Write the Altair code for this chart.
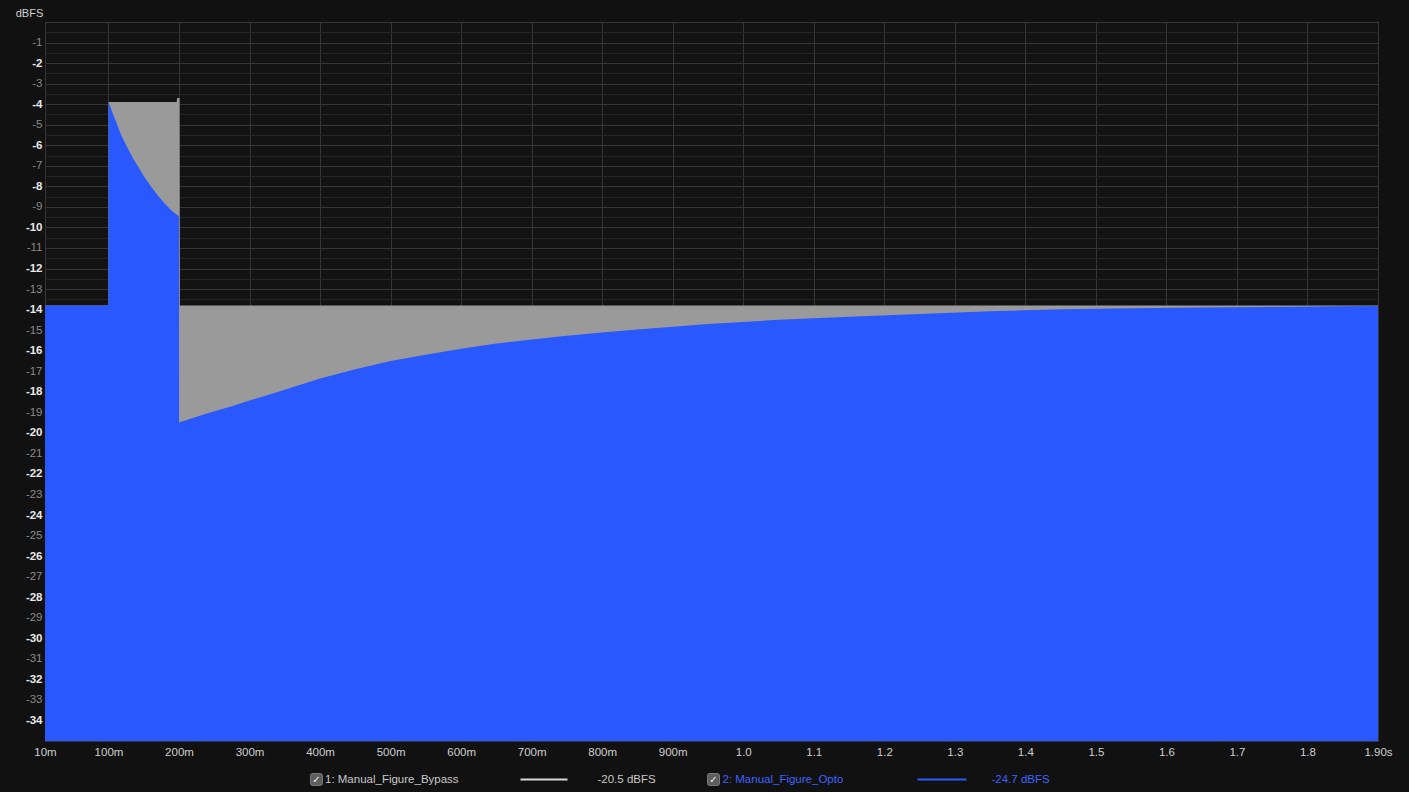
import altair as alt
import pandas as pd

# ---- data ----
bypass_t = [0.01, 0.0999, 0.1001, 0.1968, 0.1972, 0.2008, 0.2012, 1.9]
bypass_db = [-13.8, -13.8, -3.9, -3.9, -3.7, -3.7, -13.8, -13.8]

opto_t = [0.01, 0.0999, 0.1001, 0.103, 0.106, 0.110, 0.114, 0.118, 0.123, 0.129,
          0.136, 0.143, 0.150, 0.160, 0.170, 0.180, 0.190, 0.1999,
          0.2001, 0.225, 0.25, 0.275, 0.30, 0.35, 0.40, 0.45, 0.50, 0.55, 0.60,
          0.65, 0.70, 0.75, 0.80, 0.85, 0.95, 1.05, 1.15, 1.25, 1.35, 1.45, 1.55,
          1.65, 1.75, 1.85, 1.9]
opto_db = [-13.8, -13.8, -3.9, -4.15, -4.45, -4.8, -5.15, -5.5, -5.85, -6.25,
           -6.7, -7.1, -7.5, -8.0, -8.45, -8.85, -9.2, -9.45,
           -19.5, -19.22, -18.95, -18.7, -18.43, -17.9, -17.35, -16.9, -16.5,
           -16.2, -15.9, -15.65, -15.45, -15.27, -15.12, -14.97, -14.7, -14.5, -14.35,
           -14.22, -14.08, -13.98, -13.93, -13.9, -13.87, -13.84, -13.82]

series_names = ["1: Manual_Figure_Bypass", "2: Manual_Figure_Opto"]
rms_labels = ["-20.5 dBFS", "-24.7 dBFS"]

x_tick_values = [0.01, 0.1, 0.2, 0.3, 0.4, 0.5, 0.6, 0.7, 0.8, 0.9, 1.0,
                 1.1, 1.2, 1.3, 1.4, 1.5, 1.6, 1.7, 1.8, 1.9]
x_tick_labels = ["10m", "100m", "200m", "300m", "400m", "500m", "600m", "700m",
                 "800m", "900m", "1.0", "1.1", "1.2", "1.3", "1.4", "1.5", "1.6",
                 "1.7", "1.8", "1.90s"]
y_grid_values = [v / 2 for v in range(-70, 1)]
FLOOR = -35.0

BLUE = "#2a58ff"
GRAY = "#9a9a9a"
FONT = "Liberation Sans"

bypass = pd.DataFrame({"t": bypass_t, "db": bypass_db})
bypass["base"] = FLOOR
opto = pd.DataFrame({"t": opto_t, "db": opto_db})
opto["base"] = FLOOR

ints = [round(v * 100) for v in x_tick_values]
x_label_expr = "[" + ",".join("'%s'" % s for s in x_tick_labels) + "][indexof([" + \
    ",".join(str(v) for v in ints) + "], round(datum.value*100))]"

x_enc = alt.X("t:Q", scale=alt.Scale(domain=[0.01, 1.9], nice=False, zero=False),
              axis=alt.Axis(values=x_tick_values, labelExpr=x_label_expr, title=None,
                            grid=True, gridColor="#353535", domain=False, ticks=False,
                            labelColor="#cfcfcf", labelFont=FONT, labelFontSize=11.5,
                            labelPadding=5, labelFlush=False))
y_enc = alt.Y("db:Q", scale=alt.Scale(domain=[-35, 0], nice=False, zero=False),
              axis=alt.Axis(values=y_grid_values,
                            labelExpr="(datum.value % 1 == 0 && datum.value < 0 && datum.value > -35) ? ('' + datum.value) : ''",
                            title="dBFS", titleAngle=0, titleX=-16, titleY=-9,
                            titleAlign="center", titleBaseline="middle",
                            titleColor="#d0d0d0", titleFont=FONT, titleFontSize=11,
                            titleFontWeight="normal",
                            grid=True,
                            gridColor={"condition": {"test": "datum.value % 1 == 0", "value": "#363636"}, "value": "#242424"},
                            labelColor={"condition": {"test": "datum.value % 2 == 0", "value": "#e8e8e8"}, "value": "#8a8a8a"},
                            labelFontWeight={"condition": {"test": "datum.value % 2 == 0", "value": "bold"}, "value": "normal"},
                            domain=False, ticks=False, labelFont=FONT, labelFontSize=11.5,
                            labelPadding=3, labelFlush=False))

gray_area = alt.Chart(bypass).mark_area(color=GRAY, opacity=1, clip=True).encode(
    x=x_enc, y=y_enc, y2="base:Q")
blue_area = alt.Chart(opto).mark_area(color=BLUE, opacity=1, clip=True).encode(
    x=x_enc, y=y_enc, y2="base:Q")

one = pd.DataFrame({"k": [0]})
LY = 757.5  # legend row, relative to plot top


def text(s, x, color, align="left"):
    return alt.Chart(one).mark_text(align=align, baseline="middle", font=FONT,
                                    fontSize=11.5, color=color).encode(
        x=alt.value(x), y=alt.value(LY), text=alt.value(s))


def box(x):
    b = alt.Chart(one).mark_rect(fill="#5e5e5e", stroke="#8a8a8a", strokeWidth=0.8,
                                 cornerRadius=2).encode(
        x=alt.value(x - 6), x2=alt.value(x + 6), y=alt.value(LY - 6), y2=alt.value(LY + 6))
    c = alt.Chart(one).mark_text(align="center", baseline="middle", font="DejaVu Sans",
                                 fontSize=10, color="#f0f0f0").encode(
        x=alt.value(x), y=alt.value(LY + 0.5), text=alt.value("✓"))
    return b + c


def swatch(x1, x2, color):
    return alt.Chart(one).mark_rule(color=color, strokeWidth=2).encode(
        x=alt.value(x1), x2=alt.value(x2), y=alt.value(LY), y2=alt.value(LY))


legend = (box(271.5) + text(series_names[0], 280, "#c8c8c8") + swatch(475.5, 522.5, "#d8d8d8")
          + text(rms_labels[0], 552.5, "#c8c8c8")
          + box(668.5) + text(series_names[1], 677.5, "#3d63ff") + swatch(872.5, 921.5, BLUE)
          + text(rms_labels[1], 946.5, "#3d63ff"))

chart = alt.layer(gray_area, blue_area, legend).properties(
    width=1333, height=719,
    autosize=alt.AutoSizeParams(type="none"),
    padding={"left": 45, "top": 22, "right": 31, "bottom": 51},
    background="#111111",
).configure_view(stroke="#3c3c3c", fill="#131313")

chart.save("out.html", embed_options={"renderer": "svg", "actions": False})
